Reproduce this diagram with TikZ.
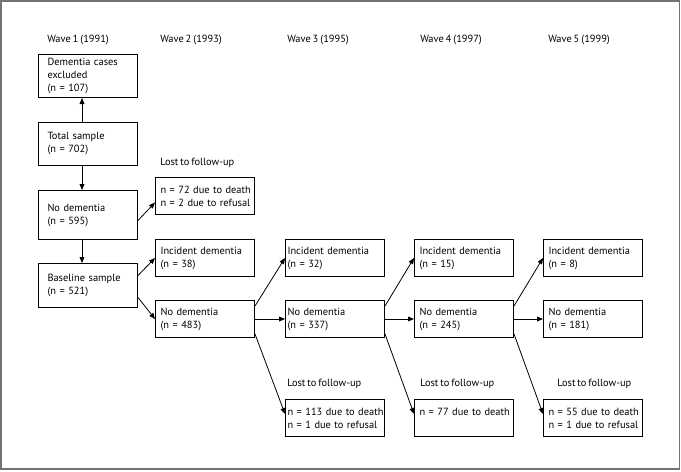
\documentclass[tikz,border=0pt]{standalone}
\usepackage{fontspec}
\setmainfont{PT Sans}[WordSpace=0.7]
\usetikzlibrary{arrows.meta,calc}
\newcommand{\oneline}[1]{\mbox{#1}}
\begin{document}
\begin{tikzpicture}[x=0.75pt,y=-0.75pt,
  every node/.style={font=\fontsize{7.8pt}{9.75pt}\selectfont},
  box/.style={draw, line width=0.75pt, anchor=north west, inner ysep=0pt, align=left, minimum width=74.25pt},
  cA/.style={box, inner xsep=6.75pt, text width=60.75pt},
  cB/.style={box, inner xsep=3.75pt, text width=66.75pt},
  cC/.style={box, inner xsep=1.5pt, text width=71.25pt},
  hA/.style={minimum height=32.25pt},
  hB/.style={minimum height=36.75pt},
  hC/.style={minimum height=33pt},
  hD/.style={minimum height=27.75pt},
  lab/.style={anchor=west, inner sep=0pt},
  arr/.style={line width=0.6pt, -{Triangle[length=4.5pt,width=3.6pt]}}
]
\useasboundingbox (0,0) rectangle (681,471);
\draw[line width=0.9pt, draw=black!55] (1,1) rectangle (679.5,469);

% wave labels
\node[lab] (w1) at (47,40) {Wave 1 (1991)};
\node[lab] (w2) at (160,40) {Wave 2 (1993)};
\node[lab] (w3) at (287,40) {Wave 3 (1995)};
\node[lab] (w4) at (420,40) {Wave 4 (1997)};
\node[lab] (w5) at (548,40) {Wave 5 (1999)};

% wave 1
\node[cA,hA] (excl) at (38,54) {\oneline{Dementia cases}\\excluded\\\oneline{(n = 107)}};
\node[cA,hA] (total) at (38,122) {\oneline{Total sample}\\\oneline{(n = 702)}};
\node[cA,hB] (nd1) at (38,190) {\oneline{No dementia}\\\oneline{(n = 595)}};
\node[cA,hC] (base) at (38,263) {\oneline{Baseline sample}\\\oneline{(n = 521)}};

% wave 2
\node[lab] (ll2) at (160,163) {Lost to follow-up};
\node[cB,hD] (lost2) at (155,177) {\oneline{n = 72 due to death}\\\oneline{n = 2 due to refusal}};
\node[cB,hD] (inc2) at (155,239) {\oneline{Incident dementia}\\\oneline{(n = 38)}};
\node[cB,hD] (nd2) at (155,300) {\oneline{No dementia}\\\oneline{(n = 483)}};

% wave 3
\node[cC,hD] (inc3) at (285,239) {\oneline{Incident dementia}\\\oneline{(n = 32)}};
\node[cC,hD] (nd3) at (285,300) {\oneline{No dementia}\\\oneline{(n = 337)}};
\node[lab] (ll3) at (287,384) {Lost to follow-up};
\node[cC,hD] (lost3) at (285,399) {\oneline{n = 113 due to death}\\\oneline{n = 1 due to refusal}};

% wave 4
\node[cB,hD] (inc4) at (414,239) {\oneline{Incident dementia}\\\oneline{(n = 15)}};
\node[cB,hD] (nd4) at (414,300) {\oneline{No dementia}\\\oneline{(n = 245)}};
\node[lab] (ll4) at (420,384) {Lost to follow-up};
\node[cB,hD] (lost4) at (414,399) {\oneline{n = 77 due to death}\\\mbox{}};

% wave 5
\node[cB,hD] (inc5) at (543,239) {\oneline{Incident dementia}\\\oneline{(n = 8)}};
\node[cB,hD] (nd5) at (543,300) {\oneline{No dementia}\\\oneline{(n = 181)}};
\node[lab] (ll5) at (557,384) {Lost to follow-up};
\node[cB,hD] (lost5) at (543,399) {\oneline{n = 55 due to death}\\\oneline{n = 1 due to refusal}};

% connectors wave 1
\draw[arr] ($(total.north)+(-6,0)$) -- ($(excl.south)+(-6,0)$);
\draw[arr] ($(total.south)+(-6,0)$) -- ($(nd1.north)+(-6,0)$);
\draw[arr] ($(nd1.south)+(-6,0)$) -- ($(base.north)+(-6,0)$);
\draw[arr] ($(nd1.east)+(0,5.5)$) -- ($(lost2.west)+(0,6.5)$);
\draw[arr] ($(base.east)+(0,-10)$) -- (inc2.west);
\draw[arr] ($(base.east)+(0,12)$) -- (nd2.west);

% wave 2 -> 3
\draw[arr] ($(nd2.north east)+(0,6)$) -- (inc3.west);
\draw[arr] (nd2.east) -- (nd3.west);
\draw[arr] ($(nd2.south east)+(0,-4)$) -- ($(lost3.west)+(0,-4)$);

% wave 3 -> 4
\draw[arr] ($(nd3.north east)+(0,6)$) -- (inc4.west);
\draw[arr] (nd3.east) -- (nd4.west);
\draw[arr] ($(nd3.south east)+(0,-4)$) -- ($(lost4.west)+(0,-4)$);

% wave 4 -> 5
\draw[arr] ($(nd4.north east)+(0,6)$) -- (inc5.west);
\draw[arr] (nd4.east) -- (nd5.west);
\draw[arr] ($(nd4.south east)+(0,-4)$) -- ($(lost5.west)+(0,-4)$);
\end{tikzpicture}
\end{document}
